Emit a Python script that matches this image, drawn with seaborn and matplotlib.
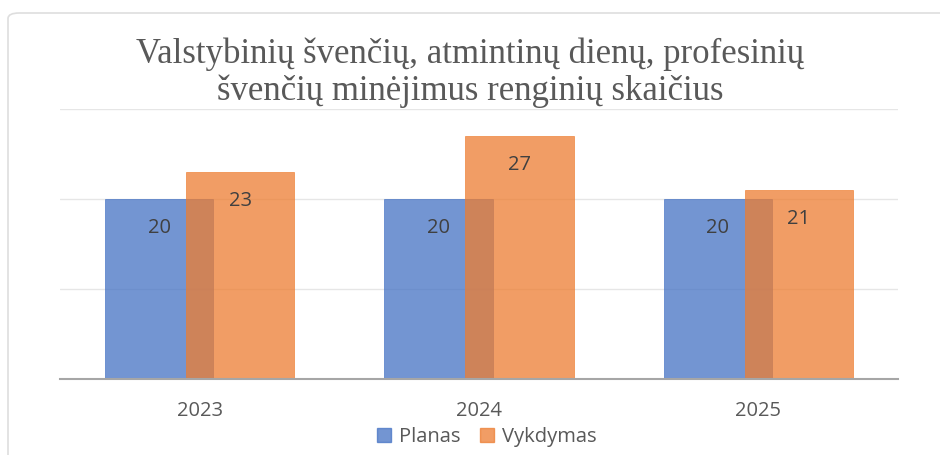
import numpy as np
import pandas as pd
import matplotlib
matplotlib.use("Agg")
import matplotlib.pyplot as plt
from matplotlib.patches import FancyBboxPatch
from matplotlib.lines import Line2D
import seaborn as sns

# Chart data
years = ["2023", "2024", "2025"]
planas = [20, 20, 20]
vykdymas = [23, 27, 21]
series_names = ["Planas", "Vykdymas"]
title = "Valstybinių švenčių, atmintinų dienų, profesinių\nšvenčių minėjimus renginių skaičius"

BLUE = "#4472C4"
ORANGE = "#ED7D31"
TEXT = "#404040"
AXIS_TEXT = "#595959"


def build_frame():
    idx = np.arange(len(years))
    return pd.DataFrame({
        "pos": np.concatenate([idx - 0.145, idx + 0.145]),
        "value": planas + vykdymas,
        "series": [series_names[0]] * len(years) + [series_names[1]] * len(years),
    })


def main():
    sns.set_theme(style="white")
    plt.rcParams["font.family"] = ["Open Sans", "DejaVu Sans"]

    fig = plt.figure(figsize=(9.4, 4.55), dpi=100)
    ax = fig.add_axes([0.0638, 0.167, 0.8915, 0.5934])

    # outer chart frame
    frame = FancyBboxPatch((8 / 940, -0.2), 1.2, 1.2 - 13 / 455,
                           boxstyle="round,pad=0,rounding_size=0.012",
                           transform=fig.transFigure, facecolor="none",
                           edgecolor="#dedede", linewidth=1.2, zorder=0)
    fig.patches.append(frame)

    df = build_frame()
    for name, color in zip(series_names, [BLUE, ORANGE]):
        sub = df[df["series"] == name]
        sns.barplot(data=sub, x="pos", y="value", native_scale=True,
                    width=0.387, color=color, alpha=0.75, saturation=1,
                    edgecolor=color, linewidth=0.6, errorbar=None, ax=ax)

    # data labels just inside the top of each bar
    for patch in ax.patches:
        h = patch.get_height()
        ax.annotate(f"{h:.0f}", (patch.get_x() + patch.get_width() / 2, h),
                    xytext=(0, -21), textcoords="offset points",
                    ha="center", va="center", fontsize=14.5, color=TEXT)

    ax.set_xlim(-0.5, len(years) - 0.5)
    ax.set_ylim(0, 30)
    ax.set_yticks([10, 20, 30])
    ax.yaxis.grid(True, color="#e6e6e6", linewidth=1)
    ax.set_axisbelow(True)
    ax.tick_params(axis="y", left=False, labelleft=False)
    ax.set_xticks(np.arange(len(years)))
    ax.set_xticklabels(years, fontsize=14.5, color=AXIS_TEXT)
    ax.tick_params(axis="x", length=0, pad=16)
    ax.set_xlabel("")
    ax.set_ylabel("")
    for side in ["top", "right", "left"]:
        ax.spines[side].set_visible(False)
    ax.spines["bottom"].set_color("#a6a6a6")
    ax.spines["bottom"].set_linewidth(1.5)

    fig.text(0.5, 1 - 73 / 455, title, ha="center", va="center",
             fontsize=25, color=AXIS_TEXT, linespacing=1.12,
             family=["Liberation Serif", "DejaVu Serif"])

    handles = [Line2D([], [], marker="s", linestyle="none", markersize=10,
                      markerfacecolor=c, markeredgecolor=c, alpha=0.75)
               for c in [BLUE, ORANGE]]
    fig.legend(handles, series_names, loc="center", bbox_to_anchor=(0.517, 1 - 437 / 455),
               ncol=2, frameon=False, fontsize=14.5, labelcolor=AXIS_TEXT,
               handlelength=0.8, handletextpad=0.35, columnspacing=0.9)

    fig.savefig("out.png", dpi=100, facecolor="white")


if __name__ == "__main__":
    main()
